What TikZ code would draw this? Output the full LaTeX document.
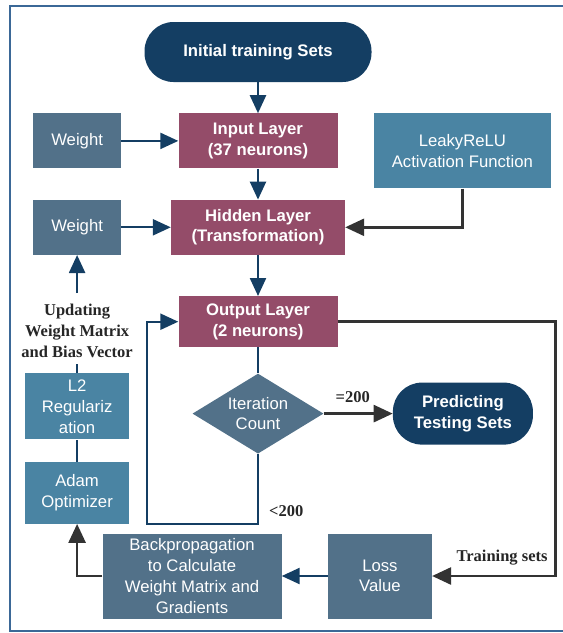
\documentclass[tikz,border=0pt]{standalone}
\usepackage{fontspec}
\setmainfont{Liberation Sans}
\newfontfamily\labelfont{Liberation Serif}
\usetikzlibrary{arrows.meta,positioning,shapes.geometric}

\definecolor{navy}{HTML}{143E63}
\definecolor{mauve}{HTML}{944C69}
\definecolor{slate}{HTML}{527189}
\definecolor{steelbox}{HTML}{4A84A3}
\definecolor{darkline}{HTML}{333333}
\definecolor{framecol}{HTML}{3B6897}

\begin{document}
\begin{tikzpicture}[
    x=1pt, y=1pt,
    node distance=31pt and 57pt,
    box/.style={align=center, text=white, inner sep=0pt,
                font=\fontsize{16.7}{20.5}\selectfont},
    layer/.style={box, fill=mauve, minimum width=159pt, minimum height=55pt,
                font=\fontsize{16.7}{20.5}\selectfont\bfseries},
    terminal/.style={box, fill=navy, rounded corners=29pt,
                font=\fontsize{16.7}{20.5}\selectfont\bfseries},
    slatebox/.style={box, fill=slate},
    steel/.style={box, fill=steelbox},
    decision/.style={box, diamond, fill=slate, aspect=1.64,
                minimum width=131pt, minimum height=80pt},
    edgelabel/.style={inner sep=0pt, text=black!85,
                font=\labelfont\bfseries\fontsize{16.5}{21}\selectfont},
    arrow/.style={navy, line width=2.3pt, -{Triangle[length=18pt, width=16pt]}},
    grayarrow/.style={darkline, line width=2.6pt, -{Triangle[length=19pt, width=17pt]}},
    link/.style={navy, line width=2.3pt}
]
\useasboundingbox (0,0) rectangle (563,-633);
\draw[framecol, line width=2pt] (570,-6) -- (10,-6) -- (10,-631) -- (570,-631);

\node[terminal, minimum width=227pt, minimum height=60pt] (init) at (258,-52) {Initial training Sets};
\node[layer, below=of init] (input) {Input Layer\\(37 neurons)};
\node[layer, below=of input, minimum width=174pt] (hidden) {Hidden Layer\\(Transformation)};
\node[layer, below=41pt of hidden, minimum height=51pt] (output) {Output Layer\\(2 neurons)};
\node[decision, below=26pt of output] (iter) {Iteration\\Count};
\node[terminal, right=69pt of iter, minimum width=140pt, minimum height=62pt] (predict) {Predicting\\Testing Sets};

\node[slatebox, left=of input, minimum width=88pt, minimum height=55pt] (weightA) {Weight};
\node[slatebox, below=of weightA, minimum width=88pt, minimum height=55pt] (weightB) {Weight};
\node[steel, right=36pt of input.north east, anchor=north west,
      minimum width=177pt, minimum height=75pt] (leaky) {LeakyReLU\\Activation Function};

\node[edgelabel, align=center, below=49pt of weightB] (update) {Updating\\Weight Matrix\\and Bias Vector};
\node[steel, below=15pt of update, minimum width=104pt, minimum height=66pt,
      font=\fontsize{16.7}{21}\selectfont] (l2) {L2\\Regulariz\\ation};
\node[steel, below=22pt of l2, minimum width=104pt, minimum height=62pt] (adam) {Adam\\Optimizer};

\node[slatebox, minimum width=179pt, minimum height=85pt,
      font=\fontsize{16.7}{21}\selectfont] (backprop) at (192,-576)
      {Backpropagation\\to Calculate\\Weight Matrix and\\Gradients};
\node[slatebox, right=46pt of backprop, minimum width=104pt, minimum height=85pt] (loss) {Loss\\Value};

% forward pass
\draw[arrow] (init) -- (input);
\draw[arrow] (input) -- (hidden);
\draw[arrow] (hidden) -- (output);
\draw[link] (output) -- (iter);
\draw[arrow] (weightA) -- (input);
\draw[arrow] (weightB) -- (hidden);
\draw[grayarrow] (leaky.south) |- (hidden.east);

% iteration check
\draw[grayarrow] (iter) -- node[edgelabel, above=10pt, pos=0.42] (eqlabel) {=200} (predict);
\draw[arrow] (iter.south) -- (iter.south |- adam.south) coordinate (loopcorner)
    -- ++(-111,0) |- (output.west);
\node[edgelabel, anchor=south west] (ltlabel) at ([xshift=11pt, yshift=7pt]loopcorner) {<200};

% training loop
\draw[grayarrow] (output.east) -- ++(218,0) coordinate (trainturn)
    -- (trainturn |- loss.east) coordinate (traincorner) -- (loss.east);
\node[edgelabel, anchor=south east] (trainlabel) at ([xshift=-8pt, yshift=11pt]traincorner) {Training sets};
\draw[arrow] (loss) -- (backprop);
\draw[grayarrow] (backprop.west) -| (adam.south);
\draw[link] (adam) -- (l2);
\draw[link, shorten >=6pt] (l2) -- (update);
\draw[arrow, shorten <=11pt] (update) -- (weightB);

\end{tikzpicture}
\end{document}
